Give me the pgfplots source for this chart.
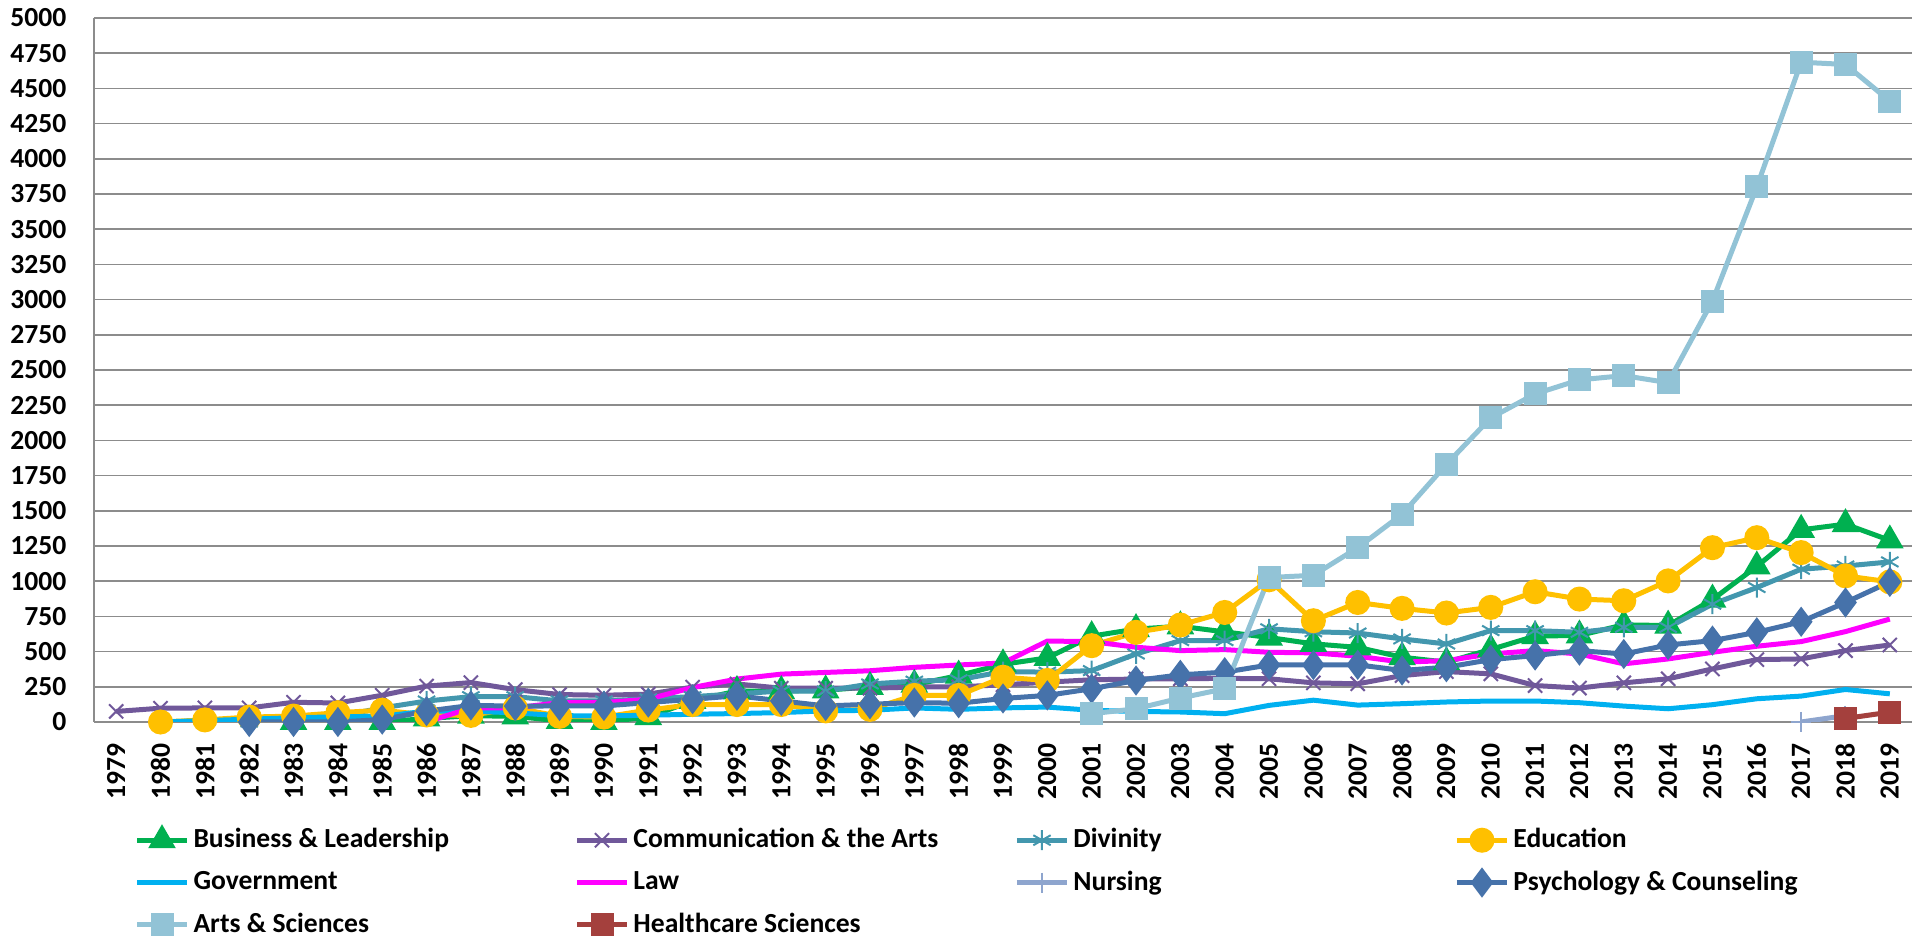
\documentclass[border=0pt]{standalone}
\usepackage{fontspec}
\setmainfont{Carlito}
\usepackage{pgfplots}
\pgfplotsset{compat=1.18}
\definecolor{cBus}{HTML}{00B050}
\definecolor{cCom}{HTML}{70589A}
\definecolor{cDiv}{HTML}{4397AE}
\definecolor{cEdu}{HTML}{FFC000}
\definecolor{cGov}{HTML}{00B0F0}
\definecolor{cLaw}{HTML}{FF00FF}
\definecolor{cNur}{HTML}{8EA5CE}
\definecolor{cPsy}{HTML}{4672AA}
\definecolor{cArt}{HTML}{92C3D6}
\definecolor{cHea}{HTML}{A4403D}
\definecolor{cGrid}{HTML}{8C8C8C}
\begin{document}
\fontsize{13.8}{16.5}\selectfont\bfseries
\begin{tikzpicture}
\useasboundingbox (-47pt,-107.5pt) rectangle (912.5pt,361pt);
\begin{axis}[
  at={(0,0)}, anchor=south west,
  scale only axis, width=909pt, height=352pt,
  xmin=1978.5, xmax=2019.5, ymin=0, ymax=5000,
  xtick={1979,...,2019}, ytick={0,250,...,5000},
  major tick length=0pt,
  axis x line*=bottom, axis y line*=left,
  axis line style={draw=cGrid, line width=0.75pt, -},
  ymajorgrids, grid style={draw=cGrid, line width=0.75pt},
  /pgf/number format/1000 sep={},
  /pgf/number format/assume math mode=true,
  ticklabel style={font=\fontsize{13.8}{16.5}\selectfont\bfseries},
  xticklabel style={rotate=90, anchor=east, yshift=0pt, xshift=-5pt},
  yticklabel style={xshift=-8pt},
  line width=2.5pt,
  legend columns=4,
  legend style={draw=none, fill=none, at={(rel axis cs:0.0209,-0.142)}, anchor=north west,
    font=\fontsize{13.8}{16.5}\selectfont\bfseries, row sep=5.4pt, inner sep=0pt,
    /tikz/every odd column/.style={column sep=0pt}},
  legend cell align=left,
  legend image code/.code={\draw[mark repeat=2,mark phase=2,#1] plot coordinates {(0pt,0pt) (12.5pt,0pt) (25pt,0pt)};},
]
\addplot[cBus, mark=triangle*, mark size=5.5pt, mark options={solid}] coordinates {
(1983,0)(1984,0)(1985,0)(1986,25)(1987,45)(1988,40)(1989,8)(1990,0)(1991,35)(1992,150)
(1993,220)(1994,220)(1995,225)(1996,250)(1997,265)(1998,330)(1999,410)(2000,455)(2001,610)(2002,660)
(2003,680)(2004,640)(2005,600)(2006,555)(2007,530)(2008,460)(2009,425)(2010,515)(2011,610)(2012,615)
(2013,690)(2014,685)(2015,870)(2016,1105)(2017,1365)(2018,1405)(2019,1290)};
\addlegendentry{\makebox[188.5pt][l]{Business \& Leadership}}
\addplot[cCom, mark=x, mark size=5pt, mark options={solid, line width=1pt}] coordinates {
(1979,75)(1980,98)(1981,100)(1982,100)(1983,140)(1984,135)(1985,190)(1986,255)(1987,280)(1988,230)
(1989,195)(1990,190)(1991,198)(1992,248)(1993,270)(1994,240)(1995,240)(1996,240)(1997,248)(1998,250)
(1999,264)(2000,283)(2001,300)(2002,305)(2003,307)(2004,310)(2005,307)(2006,278)(2007,271)(2008,330)
(2009,358)(2010,342)(2011,259)(2012,241)(2013,278)(2014,307)(2015,377)(2016,443)(2017,448)(2018,507)(2019,547)};
\addlegendentry{\makebox[188.5pt][l]{Communication \& the Arts}}
\addplot[cDiv, mark=asterisk, mark size=5pt, mark options={solid, line width=1pt}] coordinates {
(1982,0)(1983,15)(1984,40)(1985,100)(1986,149)(1987,180)(1988,180)(1989,150)(1990,150)(1991,165)
(1992,180)(1993,200)(1994,220)(1995,220)(1996,270)(1997,290)(1998,300)(1999,358)(2000,354)(2001,365)
(2002,483)(2003,578)(2004,578)(2005,662)(2006,641)(2007,632)(2008,590)(2009,554)(2010,649)(2011,649)
(2012,637)(2013,672)(2014,672)(2015,837)(2016,955)(2017,1085)(2018,1108)(2019,1137)};
\addlegendentry{\makebox[188.5pt][l]{Divinity}}
\addplot[cEdu, mark=*, mark size=5pt, mark options={solid}] coordinates {
(1980,0)(1981,15)(1982,35)(1983,42)(1984,66)(1985,84)(1986,50)(1987,47)(1988,100)(1989,40)
(1990,35)(1991,85)(1992,124)(1993,124)(1994,124)(1995,79)(1996,90)(1997,189)(1998,189)(1999,318)
(2000,295)(2001,542)(2002,637)(2003,689)(2004,778)(2005,1010)(2006,719)(2007,849)(2008,807)(2009,774)
(2010,814)(2011,925)(2012,873)(2013,861)(2014,1002)(2015,1238)(2016,1309)(2017,1203)(2018,1038)(2019,995)};
\addlegendentry{\makebox[188.5pt][l]{Education}}
\addplot[cGov, no marks] coordinates {
(1980,0)(1981,10)(1982,20)(1983,30)(1984,37)(1985,41)(1986,77)(1987,77)(1988,65)(1989,45)
(1990,43)(1991,48)(1992,55)(1993,60)(1994,67)(1995,79)(1996,83)(1997,100)(1998,90)(1999,100)
(2000,106)(2001,83)(2002,75)(2003,71)(2004,59)(2005,118)(2006,155)(2007,120)(2008,130)(2009,142)
(2010,149)(2011,149)(2012,137)(2013,113)(2014,94)(2015,123)(2016,165)(2017,184)(2018,231)(2019,200)};
\addlegendentry{\makebox[188.5pt][l]{Government}}
\addplot[cLaw, no marks] coordinates {
(1986,0)(1987,100)(1988,100)(1989,138)(1990,138)(1991,162)(1992,245)(1993,305)(1994,340)(1995,352)
(1996,364)(1997,388)(1998,405)(1999,419)(2000,575)(2001,571)(2002,531)(2003,507)(2004,514)(2005,495)
(2006,491)(2007,467)(2008,425)(2009,436)(2010,483)(2011,507)(2012,483)(2013,413)(2014,448)(2015,495)
(2016,538)(2017,571)(2018,642)(2019,731)};
\addlegendentry{\makebox[188.5pt][l]{Law}}
\addplot[cNur, mark=+, mark size=5pt, mark options={solid, line width=1pt}] coordinates {
(2017,0)(2018,45)};
\addlegendentry{\makebox[188.5pt][l]{Nursing}}
\addplot[cPsy, mark=diamond*, mark size=5.5pt, mark options={solid}] coordinates {
(1982,0)(1983,0)(1984,0)(1985,17)(1986,77)(1987,118)(1988,113)(1989,114)(1990,114)(1991,138)
(1992,162)(1993,186)(1994,150)(1995,114)(1996,126)(1997,138)(1998,133)(1999,167)(2000,189)(2001,236)
(2002,295)(2003,335)(2004,354)(2005,405)(2006,405)(2007,406)(2008,366)(2009,389)(2010,443)(2011,472)
(2012,507)(2013,483)(2014,547)(2015,578)(2016,637)(2017,712)(2018,849)(2019,995)};
\addlegendentry{\makebox[188.5pt][l]{Psychology \& Counseling}}
\addplot[cArt, mark=square*, mark size=4.5pt, mark options={solid}] coordinates {
(2001,59)(2002,94)(2003,170)(2004,236)(2005,1026)(2006,1042)(2007,1238)(2008,1475)(2009,1830)(2010,2160)
(2011,2330)(2012,2430)(2013,2460)(2014,2410)(2015,2990)(2016,3800)(2017,4686)(2018,4670)(2019,4410)};
\addlegendentry{\makebox[188.5pt][l]{Arts \& Sciences}}
\addplot[cHea, mark=square*, mark size=4.5pt, mark options={solid}] coordinates {
(2018,25)(2019,70)};
\addlegendentry{\makebox[188.5pt][l]{Healthcare Sciences}}
\end{axis}
\end{tikzpicture}
\end{document}
